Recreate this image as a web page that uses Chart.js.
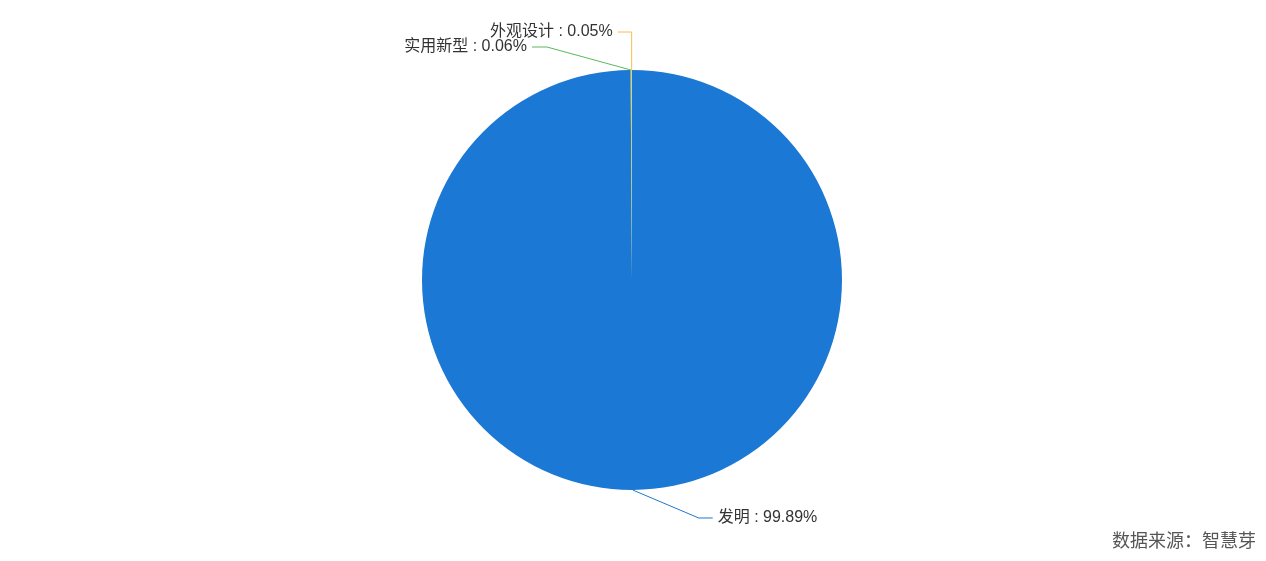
<!DOCTYPE html>
<html>
<head>
<meta charset="utf-8">
<script src="https://cdn.jsdelivr.net/npm/chart.js@4"></script>
<style>
    html, body { margin: 0; padding: 0; background: #fff; }
    #wrap { position: relative; width: 1266px; height: 561px; }
</style>
</head>
<body>
<div id="wrap"><canvas id="pie"></canvas></div>
<script>
const labels = ["发明", "实用新型", "外观设计"];
const values = [99.89, 0.06, 0.05];
const colors = ["#1b78d4", "#5cb85c", "#f0c24a"];
const sourceText = "数据来源：智慧芽";

// where each leader line bends and which side its text sits on (relative to the slice edge point)
const labelLayout = [
    { dx: 66, dy: 28, len: 14, side: "right" },
    { dx: -84, dy: -23, len: 15, side: "left" },
    { dx: 0, dy: -38, len: 14, side: "left" },
];

const leaderPlugin = {
    id: "leaderLabels",
    afterDatasetsDraw(chart) {
        const ctx = chart.ctx;
        const meta = chart.getDatasetMeta(0);
        ctx.save();
        ctx.font = "16px 'Liberation Sans', 'Noto Sans CJK SC', sans-serif";
        ctx.textBaseline = "middle";
        meta.data.forEach((arc, i) => {
            const p = arc.getProps(["x", "y", "startAngle", "endAngle", "outerRadius"], true);
            const mid = (p.startAngle + p.endAngle) / 2;
            const ax = p.x + Math.cos(mid) * p.outerRadius;
            const ay = p.y + Math.sin(mid) * p.outerRadius;
            const lay = labelLayout[i];
            const bx = ax + lay.dx;
            const by = ay + lay.dy;
            const ex = lay.side === "right" ? bx + lay.len : bx - lay.len;
            ctx.strokeStyle = colors[i];
            ctx.lineWidth = 1;
            ctx.beginPath();
            ctx.moveTo(ax, ay);
            ctx.lineTo(bx, by);
            ctx.lineTo(ex, by);
            ctx.stroke();
            ctx.fillStyle = "#333";
            const text = `${labels[i]} : ${values[i].toFixed(2)}%`;
            if (lay.side === "right") {
                ctx.textAlign = "left";
                ctx.fillText(text, ex + 5, by);
            } else {
                ctx.textAlign = "right";
                ctx.fillText(text, ex - 5, by);
            }
        });
        // data source note
        ctx.font = "18px 'Noto Sans CJK SC', sans-serif";
        ctx.fillStyle = "#555";
        ctx.textAlign = "right";
        ctx.fillText(sourceText, chart.width - 10, chart.height - 21);
        ctx.restore();
    },
};

new Chart(document.getElementById("pie").getContext("2d"), {
    type: "pie",
    data: {
        labels: labels,
        datasets: [
            {
                data: values,
                backgroundColor: colors,
                borderWidth: 0,
            },
        ],
    },
    options: {
        responsive: true,
        maintainAspectRatio: false,
        animation: false,
        layout: {
            padding: { top: 70, bottom: 71, left: 0, right: 2 },
        },
        plugins: {
            legend: { display: false },
            tooltip: { enabled: true },
        },
    },
    plugins: [leaderPlugin],
});
</script>
</body>
</html>
